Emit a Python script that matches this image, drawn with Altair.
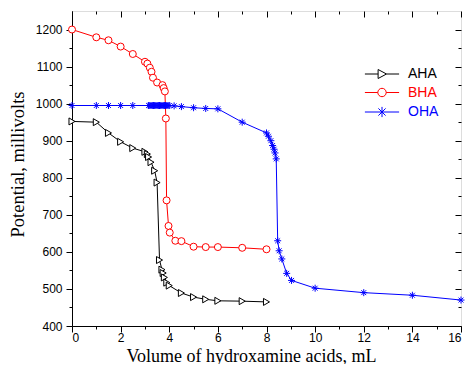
import altair as alt
import pandas as pd

# ---- data ----
aha_x = [0, 1, 1.5, 2, 2.5, 3, 3.1, 3.15, 3.25, 3.4, 3.5, 3.6, 3.7, 3.75, 3.8, 3.9, 4.0, 4.5, 5, 5.5, 6, 7, 8]
aha_y = [952, 950, 921, 897, 880, 870, 864, 856, 842, 819, 787, 578, 552, 543, 531, 517, 509, 489, 478, 472, 468, 467, 465]

bha_x = [0, 1, 1.5, 2, 2.5, 3, 3.1, 3.2, 3.27, 3.33, 3.5, 3.72, 3.77, 3.82, 3.86, 3.89, 3.97, 4.02, 4.25, 4.5, 5, 5.5, 6, 7, 8]
bha_y = [1200, 1179, 1171, 1154, 1134, 1113, 1108, 1097, 1086, 1070, 1057, 1050, 1042, 1033, 960, 739, 670, 652, 630, 629, 614, 613, 613, 611, 607]

oha_x = [0, 1, 1.5, 2, 2.5, 3.15, 3.2, 3.25, 3.3, 3.35, 3.4, 3.45, 3.5, 3.55, 3.6, 3.65, 3.7, 3.75, 3.8,
         3.85, 3.9, 3.95, 4.0, 4.2, 4.5, 5, 5.5, 6, 7, 8, 8.08, 8.18, 8.25, 8.31, 8.35, 8.4, 8.46, 8.52,
         8.63, 8.83, 9.03, 10, 12, 14, 16]
oha_y = [995, 995, 995, 995, 995, 995, 995, 995, 995, 995, 995, 995, 995, 995, 995, 995, 995, 995, 995,
         995, 995, 995, 995, 994, 992, 989, 987, 986, 950, 921, 912, 900, 887, 877, 867, 851, 630, 603,
         581, 542, 523, 502, 490, 483, 470]

series = ["AHA", "BHA", "OHA"]
colors = ["#000000", "#ff0000", "#0000ff"]

x_ticks = [0, 1, 2, 3, 4, 5, 6, 7, 8, 9, 10, 11, 12, 13, 14, 15, 16]
y_ticks = [400, 450, 500, 550, 600, 650, 700, 750, 800, 850, 900, 950, 1000, 1050, 1100, 1150, 1200]

rows = []
for name, xs, ys in [("AHA", aha_x, aha_y), ("BHA", bha_x, bha_y), ("OHA", oha_x, oha_y)]:
    for a, b in zip(xs, ys):
        rows.append({"vol": a, "mv": b, "acid": name})
df = pd.DataFrame(rows)

ASTER = "M-1,0H1M0,-1V1M-0.7,-0.7L0.7,0.7M-0.7,0.7L0.7,-0.7"
shapes = ["triangle-right", "circle", ASTER]

# legend symbols (line stub + marker), unit = 3 px with symbolSize 36
LEG_AHA = "M-5.7,0H-1.3M1.5,0H5.7M-1.3,-1.5L1.5,0L-1.3,1.5Z"
LEG_BHA = "M-5.7,0H-1.4M1.4,0H5.7M-1.4,0A1.4,1.4,0,1,0,1.4,0A1.4,1.4,0,1,0,-1.4,0Z"
LEG_OHA = "M-5.7,0H5.7M0,-1.7V1.7M-1.2,-1.2L1.2,1.2M-1.2,1.2L1.2,-1.2"
leg_shapes = [LEG_AHA, LEG_BHA, LEG_OHA]

sans = "Liberation Sans"
serif = "Liberation Serif"

xscale = alt.Scale(domain=[0, 16], nice=False, zero=False)
yscale = alt.Scale(domain=[400, 1250], nice=False, zero=False)
cscale = alt.Scale(domain=series, range=colors)

x_bottom = alt.X("vol:Q", scale=xscale, axis=alt.Axis(
    values=x_ticks, grid=False, title="Volume of hydroxamine acids, mL", format="d",
    labelExpr="datum.value % 2 === 0 ? datum.label : ''",
    tickSize=alt.ExprRef(expr="datum.value % 2 === 0 ? 6 : 3"),
    labelPadding=0, labelFont=sans, labelFontSize=12, labelColor="black",
    titleFont=serif, titleFontSize=18, titleFontWeight="normal", titleColor="black",
    titleX=179, titleY=35, titleBaseline="alphabetic",
    domainColor="black", tickColor="black"))
y_left = alt.Y("mv:Q", scale=yscale, axis=alt.Axis(
    values=y_ticks, grid=False, title="Potential, millivolts", format="d",
    labelExpr="datum.value % 100 === 0 ? datum.label : ''",
    tickSize=alt.ExprRef(expr="datum.value % 100 === 0 ? 6 : 3"),
    labelPadding=4, labelFont=sans, labelFontSize=12, labelColor="black",
    titleFont=serif, titleFontSize=18.5, titleFontWeight="normal", titleColor="black",
    titleAngle=270, titleX=-49, titleY=153, titleBaseline="alphabetic", titleAlign="center",
    domainColor="black", tickColor="black"))

x_top = alt.X("vol:Q", scale=xscale, axis=alt.Axis(
    orient="top", values=x_ticks, grid=False, title=None, labels=False, domain=False,
    tickSize=alt.ExprRef(expr="datum.value % 2 === 0 ? -6 : -3"), tickColor="black"))
y_right = alt.Y("mv:Q", scale=yscale, axis=alt.Axis(
    orient="right", values=y_ticks, grid=False, title=None, labels=False, domain=False,
    tickSize=alt.ExprRef(expr="datum.value % 100 === 0 ? -6 : -3"), tickColor="black"))

lines = alt.Chart(df).mark_line(strokeWidth=1).encode(
    x=x_bottom, y=y_left,
    color=alt.Color("acid:N", scale=cscale, legend=None),
    detail="acid:N",
)

points = alt.Chart(df).mark_point(size=49, fill="white", fillOpacity=1, strokeWidth=1, opacity=1).encode(
    x=x_top, y=y_right,
    color=alt.Color("acid:N", scale=cscale, legend=None),
    shape=alt.Shape("acid:N", scale=alt.Scale(domain=series, range=shapes), legend=None),
)

legend = alt.Legend(
    orient="none", legendX=303, legendY=56, title=None, padding=0,
    labelFont=sans, labelFontSize=14, symbolSize=36, labelOffset=19, rowPadding=4.5,
    symbolStrokeWidth=1, symbolFillColor="white", symbolOpacity=1,
    labelColor=alt.ExprRef(expr="datum.value === 'AHA' ? '#000000' : datum.value === 'BHA' ? '#ff0000' : '#0000ff'"),
)

legend_layer = alt.Chart(df).transform_filter("false").mark_point(
    fill="white", fillOpacity=1, strokeWidth=1, opacity=1).encode(
    x=alt.X("vol:Q", scale=xscale, axis=None),
    y=alt.Y("mv:Q", scale=yscale, axis=None),
    color=alt.Color("acid:N", scale=alt.Scale(domain=series, range=colors), legend=legend),
    shape=alt.Shape("acid:N", scale=alt.Scale(domain=series, range=leg_shapes), legend=legend),
)

chart = alt.layer(lines, points, legend_layer).resolve_axis(
    x="independent", y="independent"
).resolve_scale(color="independent", shape="independent").properties(
    width=389, height=315,
    autosize=alt.AutoSizeParams(type="none"),
    padding={"left": 64, "top": 3, "right": 7, "bottom": 38},
).configure_view(stroke="black", strokeWidth=1).configure(background="white")

chart.save("out.html", embed_options={"renderer": "svg", "actions": False})
